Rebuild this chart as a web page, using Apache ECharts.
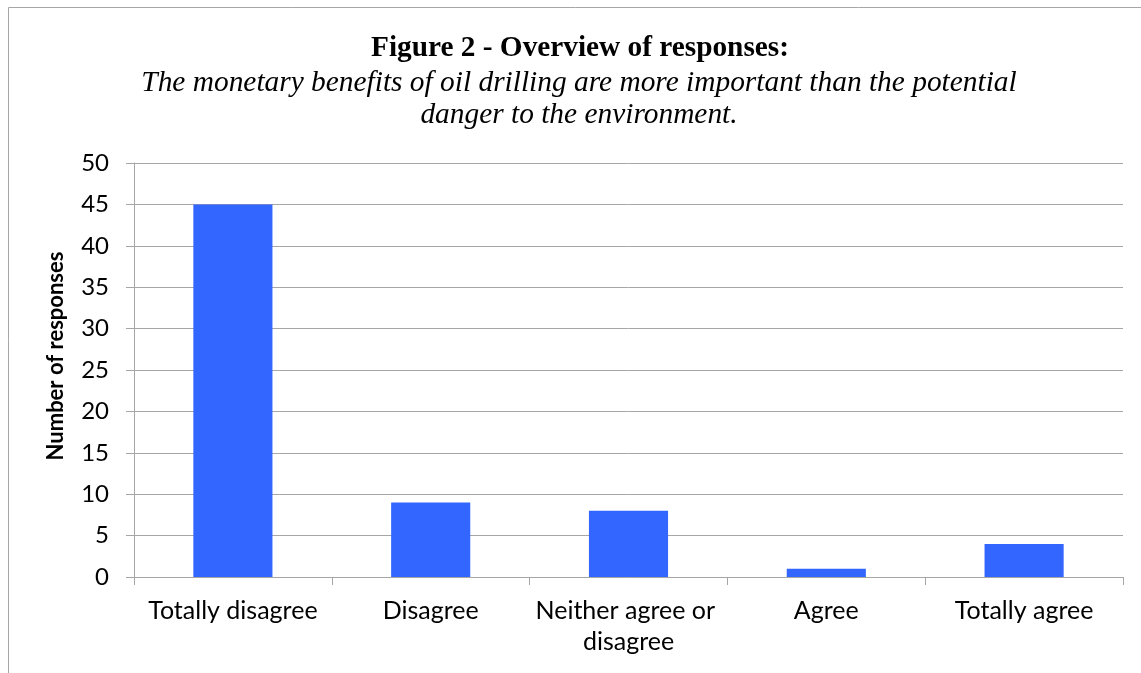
<!DOCTYPE html>
<html>
<head>
<meta charset="utf-8">
<script src="https://cdn.jsdelivr.net/npm/echarts@6/dist/echarts.min.js"></script>
<style>
html,body{margin:0;padding:0;background:#fff;}
#chart{width:1141px;height:673px;}
</style>
</head>
<body>
<div id="chart"></div>
<script>
const titleText = 'Figure 2 - Overview of responses:';
const subtitleText = 'The monetary benefits of oil drilling are more important than the potential\ndanger to the environment.';
const yAxisName = 'Number of responses';
const categories = ['Totally disagree', 'Disagree', 'Neither agree or disagree', 'Agree', 'Totally agree'];
const responses = [45, 9, 8, 1, 4];
const yMin = 0, yMax = 50, yStep = 5;

const chart = echarts.init(document.getElementById('chart'), null, {renderer: 'canvas'});
const labelFont = 'Lato, "Open Sans", sans-serif';
chart.setOption({
  animation: false,
  backgroundColor: '#ffffff',
  graphic: [{
    type: 'rect',
    shape: {x: 8.5, y: 7.5, width: 1300, height: 900},
    style: {fill: 'none', stroke: '#a6a6a6', lineWidth: 1},
    silent: true,
    z: -10
  }],
  title: [{
    text: titleText,
    left: 575,
    textAlign: 'center',
    top: 29,
    textStyle: {fontFamily: '"Liberation Serif", "Times New Roman", serif', fontWeight: 'bold', fontSize: 29.3, color: '#000'}
  }, {
    text: subtitleText,
    left: 574,
    textAlign: 'center',
    top: 62,
    textStyle: {fontFamily: '"Liberation Serif", "Times New Roman", serif', fontStyle: 'italic', fontWeight: 'normal', fontSize: 29.4, lineHeight: 32, color: '#000'}
  }],
  grid: {left: 134, right: 18, top: 163, bottom: 96, containLabel: false},
  xAxis: {
    type: 'category',
    data: categories,
    axisLine: {show: true, lineStyle: {color: '#a6a6a6', width: 1}},
    axisTick: {show: true, length: 8, lineStyle: {color: '#a6a6a6'}},
    axisLabel: {fontFamily: labelFont, fontSize: 25, color: '#000', margin: 18, width: 192, overflow: 'break', lineHeight: 31, interval: 0}
  },
  yAxis: {
    type: 'value',
    min: yMin, max: yMax, interval: yStep,
    name: yAxisName,
    nameLocation: 'middle',
    nameGap: 67,
    nameRotate: 90,
    nameTextStyle: {fontFamily: labelFont, fontWeight: 'bold', fontSize: 22, color: '#000', padding: [0, 0, 0, 28]},
    axisLine: {show: true, lineStyle: {color: '#a6a6a6', width: 1}},
    axisTick: {show: true, length: 8, lineStyle: {color: '#a6a6a6'}},
    axisLabel: {fontFamily: labelFont, fontSize: 24, color: '#000', margin: 25},
    splitLine: {show: true, lineStyle: {color: '#a6a6a6', width: 1}}
  },
  series: [{
    type: 'bar',
    data: responses,
    barWidth: '40%',
    itemStyle: {color: '#3366ff'}
  }]
});
</script>
</body>
</html>
